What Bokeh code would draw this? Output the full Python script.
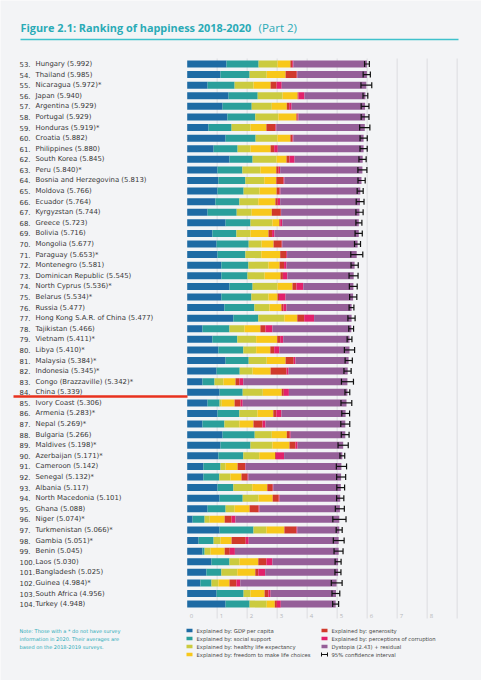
from bokeh.plotting import figure
from bokeh.models import Range1d, ColumnDataSource
from bokeh.core.properties import value
from bokeh.embed import file_html
from bokeh.resources import INLINE

# ---------------- data ----------------
ranks = list(range(53, 105))
countries = ["Hungary", "Thailand", "Nicaragua", "Japan", "Argentina", "Portugal", "Honduras",
             "Croatia", "Philippines", "South Korea", "Peru", "Bosnia and Herzegovina", "Moldova",
             "Ecuador", "Kyrgyzstan", "Greece", "Bolivia", "Mongolia", "Paraguay", "Montenegro",
             "Dominican Republic", "North Cyprus", "Belarus", "Russia", "Hong Kong S.A.R. of China",
             "Tajikistan", "Vietnam", "Libya", "Malaysia", "Indonesia", "Congo (Brazzaville)", "China",
             "Ivory Coast", "Armenia", "Nepal", "Bulgaria", "Maldives", "Azerbaijan", "Cameroon",
             "Senegal", "Albania", "North Macedonia", "Ghana", "Niger", "Turkmenistan", "Gambia",
             "Benin", "Laos", "Bangladesh", "Guinea", "South Africa", "Turkey"]
scores = [5.992, 5.985, 5.972, 5.940, 5.929, 5.929, 5.919, 5.882, 5.880, 5.845, 5.840, 5.813, 5.766,
          5.764, 5.744, 5.723, 5.716, 5.677, 5.653, 5.581, 5.545, 5.536, 5.534, 5.477, 5.477, 5.466,
          5.411, 5.410, 5.384, 5.345, 5.342, 5.339, 5.306, 5.283, 5.269, 5.266, 5.198, 5.171, 5.142,
          5.132, 5.117, 5.101, 5.088, 5.074, 5.066, 5.051, 5.045, 5.030, 5.025, 4.984, 4.956, 4.948]
starred = ["Nicaragua", "Honduras", "Peru", "Paraguay", "North Cyprus", "Belarus", "Vietnam", "Libya",
           "Malaysia", "Indonesia", "Congo (Brazzaville)", "Armenia", "Nepal", "Maldives", "Azerbaijan",
           "Senegal", "Niger", "Turkmenistan", "Gambia", "Guinea"]

gdp = [1.31, 1.11, 0.68, 1.38, 1.18, 1.34, 0.71, 1.28, 0.88, 1.41, 1.01, 1.04, 1.01, 0.94,
       0.68, 1.28, 0.84, 0.98, 1.01, 1.14, 1.14, 1.41, 1.14, 1.24, 1.54, 0.51, 0.84, 1.04,
       1.28, 0.98, 0.51, 1.08, 0.68, 1.01, 0.51, 1.18, 1.11, 1.04, 0.54, 0.54, 1.01,
       1.08, 0.68, 0.18, 1.08, 0.38, 0.51, 0.81, 0.64, 0.44, 0.98, 1.28]
social = [1.07, 0.97, 0.90, 0.97, 0.97, 0.93, 0.77, 1.00, 0.80, 0.77, 0.83, 0.90, 0.87, 0.80,
          0.97, 0.83, 0.80, 1.07, 0.93, 0.90, 0.87, 0.77, 1.00, 1.00, 0.83, 0.90, 0.83, 0.83,
          0.77, 0.77, 0.40, 0.77, 0.40, 0.73, 0.73, 1.07, 1.00, 0.83, 0.57, 0.53, 0.53,
          0.77, 0.60, 0.40, 1.13, 0.50, 0.07, 0.60, 0.50, 0.37, 0.90, 0.80]
health = [0.63, 0.57, 0.63, 0.83, 0.67, 0.77, 0.63, 0.73, 0.43, 0.80, 0.60, 0.63, 0.53, 0.63,
          0.50, 0.73, 0.47, 0.43, 0.53, 0.67, 0.57, 0.83, 0.57, 0.50, 0.87, 0.50, 0.63, 0.43,
          0.60, 0.43, 0.30, 0.67, 0.07, 0.60, 0.50, 0.57, 0.73, 0.53, 0.17, 0.37, 0.63,
          0.53, 0.30, 0.17, 0.43, 0.23, 0.20, 0.33, 0.53, 0.23, 0.23, 0.57]
freedom = [0.43, 0.63, 0.57, 0.50, 0.50, 0.60, 0.53, 0.43, 0.67, 0.33, 0.53, 0.40, 0.57, 0.57,
           0.67, 0.23, 0.60, 0.40, 0.63, 0.37, 0.53, 0.50, 0.30, 0.40, 0.43, 0.53, 0.70, 0.47,
           0.63, 0.60, 0.40, 0.63, 0.43, 0.53, 0.47, 0.50, 0.57, 0.53, 0.40, 0.37, 0.50,
           0.47, 0.50, 0.50, 0.60, 0.37, 0.47, 0.63, 0.60, 0.37, 0.47, 0.27]
generosity = [0.06, 0.37, 0.20, 0.03, 0.08, 0.04, 0.30, 0.07, 0.12, 0.10, 0.08, 0.24, 0.10, 0.08,
              0.30, 0.03, 0.12, 0.27, 0.20, 0.15, 0.08, 0.13, 0.05, 0.07, 0.23, 0.17, 0.10, 0.13,
              0.27, 0.53, 0.13, 0.07, 0.20, 0.10, 0.30, 0.10, 0.20, 0.03, 0.25, 0.20, 0.18,
              0.20, 0.30, 0.23, 0.40, 0.47, 0.17, 0.27, 0.10, 0.23, 0.13, 0.07]
corruption = [0.04, 0.02, 0.17, 0.20, 0.08, 0.03, 0.03, 0.03, 0.12, 0.17, 0.05, 0.03, 0.03, 0.08,
              0.01, 0.07, 0.08, 0.02, 0.03, 0.08, 0.15, 0.23, 0.22, 0.10, 0.33, 0.23, 0.10, 0.17,
              0.06, 0.07, 0.13, 0.17, 0.07, 0.17, 0.10, 0.03, 0.07, 0.27, 0.02, 0.03, 0.02,
              0.03, 0.03, 0.13, 0.03, 0.10, 0.17, 0.20, 0.23, 0.13, 0.07, 0.13]
dystopia = [2.45, 2.32, 2.82, 2.03, 2.45, 2.22, 2.95, 2.34, 2.86, 2.27, 2.74, 2.57, 2.66, 2.66,
            2.61, 2.55, 2.81, 2.51, 2.32, 2.27, 2.21, 1.67, 2.25, 2.17, 1.25, 2.63, 2.21, 2.34,
            1.77, 1.97, 3.47, 1.95, 3.46, 2.14, 2.66, 1.82, 1.52, 1.94, 3.19, 3.09, 2.25,
            2.02, 2.68, 3.46, 1.40, 3.00, 3.46, 2.19, 2.43, 3.21, 2.18, 1.83]
ci_half = [0.08, 0.12, 0.18, 0.08, 0.13, 0.13, 0.17, 0.12, 0.12, 0.12, 0.15, 0.12, 0.10, 0.13,
           0.12, 0.10, 0.12, 0.10, 0.20, 0.12, 0.15, 0.13, 0.12, 0.08, 0.12, 0.08, 0.08, 0.17,
           0.12, 0.12, 0.20, 0.08, 0.18, 0.13, 0.15, 0.13, 0.17, 0.08, 0.17, 0.15, 0.13,
           0.12, 0.15, 0.22, 0.10, 0.18, 0.15, 0.10, 0.10, 0.18, 0.13, 0.10]

tick_values = [0, 1, 2, 3, 4, 5, 6, 7, 8]
tick_labels = ["0", "1", "2", "3", "4", "5", "6", "7", "8"]
grid_values = [1, 2, 3, 4, 5, 6, 7, 8, 9]

seg_keys = ["gdp", "social", "health", "freedom", "generosity", "corruption", "dystopia"]
seg_colors = ["#1e6ba4", "#2a9f9b", "#cbcb3f", "#f8c81b", "#d03a2c", "#e2216b", "#955f98"]
legend_col1 = ["Explained by: GDP per capita", "Explained by: social support",
               "Explained by: healthy life expectancy", "Explained by: freedom to make life choices"]
legend_col2 = ["Explained by: generosity", "Explained by: perceptions of corruption",
               "Dystopia (2.43) + residual", "95% confidence interval"]
note_lines = ["Note: Those with a * do not have survey",
              "information in 2020. Their averages are",
              "based on the 2018-2019 surveys."]
title_main = "Figure 2.1: Ranking of happiness 2018-2020"
title_part = "(Part 2)"

# ---------------- geometry (page pixels; canvas sits at page origin) ----------------
W, H = 481, 680
X0_PAGE, PX_PER = 186.7, 30.0
ROW0_PAGE, ROW_STEP = 63.5, 10.59


def dx(xp):
    return (xp - X0_PAGE) / PX_PER


def dy(yp):
    return (yp - ROW0_PAGE) / ROW_STEP


BG = "#f3f4f6"
TEAL = "#2aabb6"
FONT = value("Open Sans")
SMALL = value("DejaVu Sans")

p = figure(width=W, height=H, x_range=Range1d(dx(0), dx(W)), y_range=Range1d(dy(H), dy(0)),
           x_axis_type=None, y_axis_type=None, output_backend="svg", toolbar_location=None,
           min_border=0, background_fill_color=BG, border_fill_color=BG, outline_line_color=None)
p.grid.visible = False

n = len(countries)
rows = list(range(n))

# grid lines
p.segment(x0=grid_values, y0=[dy(58)] * len(grid_values), x1=grid_values, y1=[dy(618)] * len(grid_values),
          line_color="#e3e4e7", line_width=1.5)

# stacked bars
src = ColumnDataSource(dict(y=rows, gdp=gdp, social=social, health=health, freedom=freedom,
                            generosity=generosity, corruption=corruption, dystopia=dystopia))
p.hbar_stack(seg_keys, y="y", height=7 / ROW_STEP, color=seg_colors, line_color=None, source=src)

# confidence intervals
lo = [s - h for s, h in zip(scores, ci_half)]
hi = [s + h for s, h in zip(scores, ci_half)]
cap = 3 / ROW_STEP
p.segment(x0=lo, y0=rows, x1=hi, y1=rows, line_color="#111111", line_width=1.2)
p.segment(x0=lo, y0=[r - cap for r in rows], x1=lo, y1=[r + cap for r in rows], line_color="#111111", line_width=1.2)
p.segment(x0=hi, y0=[r - cap for r in rows], x1=hi, y1=[r + cap for r in rows], line_color="#111111", line_width=1.2)

# row labels
rank_txt = [f"{r}." for r in ranks]
name_txt = [f"{c} ({s:.3f})" + ("*" if c in starred else "") for c, s in zip(countries, scores)]
p.text(x=[dx(19)] * n, y=rows, text=rank_txt, text_font=SMALL, text_font_size="6.9px",
       text_color="#383838", text_baseline="middle", text_align="left")
p.text(x=[dx(35)] * n, y=rows, text=name_txt, text_font=SMALL, text_font_size="6.9px",
       text_color="#383838", text_baseline="middle", text_align="left")

# China marker line
p.segment(x0=[dx(13)], y0=[dy(396)], x1=[dx(187)], y1=[dy(396)], line_color="#e8321e", line_width=2.5)

# tick labels
p.text(x=[t + dx(X0_PAGE + 2.5) for t in tick_values], y=[dy(615)] * len(tick_values), text=tick_labels,
       text_font=FONT, text_font_size="6px", text_color="#b5b7ba", text_baseline="middle", text_align="left")

# title
p.text(x=[dx(20)], y=[dy(27)], text=[title_main], text_font=FONT, text_font_style="bold",
       text_font_size="10.9px", text_color=TEAL, text_baseline="middle")
p.text(x=[dx(258)], y=[dy(27)], text=[title_part], text_font=FONT,
       text_font_size="11.5px", text_color=TEAL, text_baseline="middle")
p.segment(x0=[dx(20)], y0=[dy(39)], x1=[dx(458)], y1=[dy(39)], line_color="#3fc1cc", line_width=1.5)

# legend
ly = [630, 638, 646, 654]
p.rect(x=[dx(189)] * 4, y=[dy(v) for v in ly], width=6 / PX_PER, height=3.5 / ROW_STEP,
       color=seg_colors[:4], line_color=None)
p.text(x=[dx(196)] * 4, y=[dy(v) for v in ly], text=legend_col1, text_font=SMALL, text_font_size="5.3px",
       text_color="#444444", text_baseline="middle")
p.rect(x=[dx(324)] * 3, y=[dy(v) for v in ly[:3]], width=6 / PX_PER, height=3.5 / ROW_STEP,
       color=seg_colors[4:], line_color=None)
p.segment(x0=[dx(321)], y0=[dy(654)], x1=[dx(327)], y1=[dy(654)], line_color="#111111", line_width=1)
p.segment(x0=[dx(321), dx(327)], y0=[dy(652), dy(652)], x1=[dx(321), dx(327)], y1=[dy(656), dy(656)],
          line_color="#111111", line_width=1)
p.text(x=[dx(331)] * 4, y=[dy(v) for v in ly], text=legend_col2, text_font=SMALL, text_font_size="5.3px",
       text_color="#444444", text_baseline="middle")

# note
p.text(x=[dx(19)] * 3, y=[dy(v) for v in ly[:3]], text=note_lines, text_font=SMALL, text_font_size="5.0px",
       text_color=TEAL, text_baseline="middle")

open("out.html", "w").write(file_html(p, INLINE))
